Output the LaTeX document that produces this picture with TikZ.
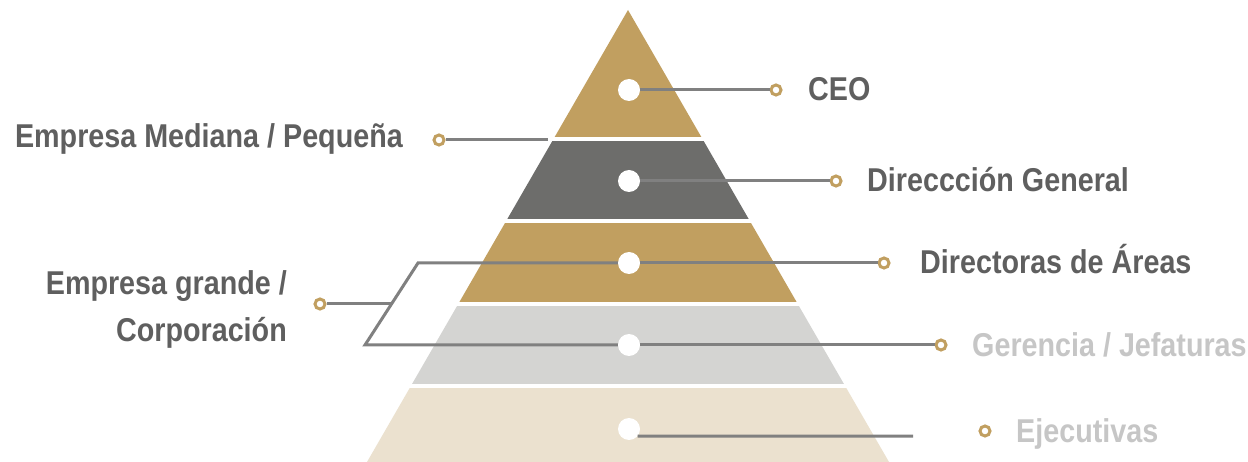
\documentclass[tikz,border=0pt]{standalone}
\usepackage{fontspec}
\setmainfont{Liberation Sans}[FakeStretch=0.87]
\definecolor{gold}{HTML}{C19F60}
\definecolor{darkt}{HTML}{6D6D6B}
\definecolor{lgray}{HTML}{D4D4D2}
\definecolor{beige}{HTML}{EBE1CF}
\definecolor{txtd}{HTML}{5F5F5F}
\definecolor{txtl}{HTML}{C6C6C6}
\definecolor{linec}{HTML}{808080}
\tikzset{
  dot/.style={circle,fill=white,minimum size=22pt,inner sep=0pt},
  ring/.style={circle,draw=gold,fill=white,line width=3pt,minimum size=10pt,inner sep=0pt},
  conn/.style={draw=linec,line width=3pt},
  lab/.style={font=\fontsize{33}{47}\selectfont\bfseries,text=txtd,inner sep=0pt},
  labl/.style={lab,text=txtl}
}
\begin{document}
\begin{tikzpicture}[x=1pt,y=-1pt]
\fill[white] (0,0) rectangle (1248,462);
\useasboundingbox (0,0) rectangle (1248,462);
\begin{scope}
\clip (628,10) -- (367,462) -- (889,462) -- cycle;
\fill[gold] (300,0) rectangle (950,137);
\fill[darkt] (300,141) rectangle (950,219);
\fill[gold] (300,223) rectangle (950,302);
\fill[lgray] (300,306) rectangle (950,384);
\fill[beige] (300,388) rectangle (950,470);
\end{scope}
% dots
\node[dot] (d1) at (629,90) {};
\node[dot] (d2) at (629,181) {};
\node[dot] (d3) at (629,263) {};
\node[dot] (d4) at (629,345) {};
\node[dot] (d5) at (629,429) {};
% rings
\node[ring] (r1) at (776,90) {};
\node[ring] (r2) at (836,181) {};
\node[ring] (r3) at (884,263) {};
\node[ring] (r4) at (941,345) {};
\node[ring] (r5) at (985,431) {};
\node[ring] (rm) at (439,140) {};
\node[ring] (rg) at (320,304) {};
% helper coordinates
\coordinate (bt) at (418,263);
\coordinate (bb) at (365,345);
\coordinate (bj) at (391,304);
\coordinate (me) at (548,140);
\coordinate (ee) at (913,436);
% connectors
\draw[conn] (d1) -- (r1);
\draw[conn] (d2) -- (r2);
\draw[conn] (d3) -- (r3);
\draw[conn] (d4) -- (r4);
\draw[conn] (d5.-40) -- (ee);
\draw[conn] (d3) -- (bt) -- (bb) -- (d4);
\draw[conn] (rg) -- (bj);
\draw[conn] (rm) -- (me);
% labels
\node[lab,anchor=base west] (tceo) at (808,101) {CEO};
\node[lab,anchor=base west] (tdg) at (867,192) {Direccción General};
\node[lab,anchor=base west] (tda) at (920,274) {Directoras de Áreas};
\node[labl,anchor=base west] (tgj) at (972,356) {Gerencia / Jefaturas};
\node[labl,anchor=base west] (tej) at (1016,442) {Ejecutivas};
\node[lab,anchor=base east] (tem) at (403,148) {Empresa Mediana / Pequeña};
\node[lab,anchor=east,align=right] (teg) at (287,309) {Empresa grande /\\Corporación};
\end{tikzpicture}
\end{document}
